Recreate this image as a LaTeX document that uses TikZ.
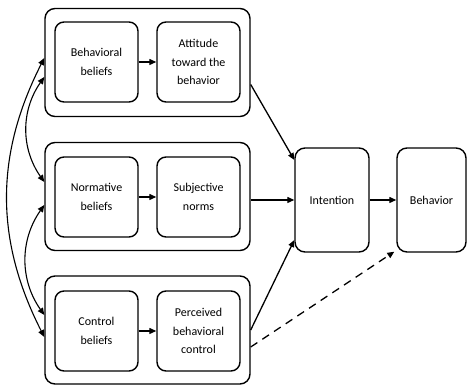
\documentclass[tikz,border=0pt]{standalone}
\usepackage{fontspec}
\setmainfont{Carlito}
\usetikzlibrary{arrows.meta}

\begin{document}
\begin{tikzpicture}[
	x=1pt,
	y=1pt,
	group/.style={
		rectangle,
		draw=black,
		line width=1.4pt,
		rounded corners=10pt,
		minimum width=205pt,
		minimum height=108pt
	},
	factor/.style={
		rectangle,
		draw=black,
		line width=1.4pt,
		align=center,
		rounded corners=9pt,
		font=\fontsize{12}{18.5}\selectfont,
		minimum height=80pt,
		minimum width=83pt
	},
	stage/.style={
		rectangle,
		draw=black,
		line width=1.4pt,
		align=center,
		rounded corners=10pt,
		font=\fontsize{12}{18.5}\selectfont,
		minimum height=104pt,
		minimum width=74pt
	},
	link/.style={
		line width=1.3pt,
		-{Triangle[length=7pt,width=6pt]}
	},
	both/.style={
		line width=1.1pt,
		{Triangle[length=7pt,width=6pt]}-{Triangle[length=7pt,width=6pt]}
	},
]

\useasboundingbox (0,0) rectangle (467,385);

% Groups
\foreach \i/\y in {1/322.5, 2/188.5, 3/55}
	\node[group] (grp\i) at (147.5,\y) {};

% Beliefs
\node[factor] (bel1) at (96.5,323) {Behavioral\\beliefs};
\node[factor] (bel2) at (96.5,188) {Normative\\beliefs};
\node[factor] (bel3) at (96.5,54) {Control\\beliefs};

% Attitude, norms, control
\node[factor] (res1) at (198.5,323) {Attitude\\toward the\\behavior};
\node[factor] (res2) at (198.5,188) {Subjective\\norms};
\node[factor] (res3) at (198.5,54) {Perceived\\behavioral\\control};

% Intention and behavior
\node[stage] (int) at (332,185) {Intention};
\node[stage,minimum width=69pt] (beh) at (431.5,185) {Behavior};

% Connection beliefs
\foreach \i in {1, 2, 3}
	\draw[link] (bel\i.east) -- (res\i.west);

% Connection intention
\draw[link] ([yshift=-22pt]grp1.east) -- ([yshift=40pt]int.west);
\draw[link] (int.west -| grp2.east) -- (int.west);
\draw[link] (grp3.east) -- ([yshift=-40pt]int.west);
\draw[link] (int.east) -- (beh.west);
\draw[link,dash pattern=on 8pt off 6pt] ([yshift=-17pt]grp3.east) -- ([xshift=-2pt,yshift=1pt]beh.south west);

% Correlations
\draw[both] ([yshift=-14.5pt]grp1.west) to [out=235,in=125] ([yshift=14.5pt]grp2.west);
\draw[both] ([yshift=-8.5pt]grp2.west) to [out=235,in=125] ([yshift=15pt]grp3.west);
\draw[both] ([yshift=4.5pt]grp1.west) to [out=243,in=117] ([yshift=-7pt]grp3.west);

\end{tikzpicture}
\end{document}
